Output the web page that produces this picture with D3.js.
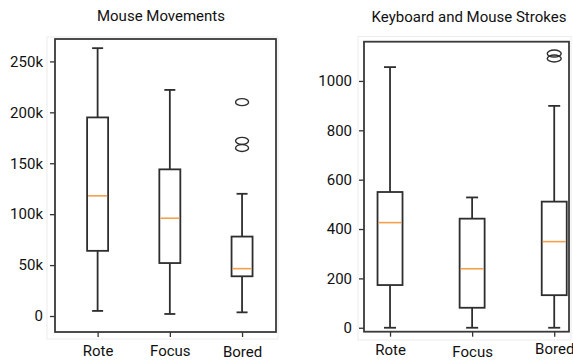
<!DOCTYPE html>
<html>
<head>
<meta charset="utf-8">
<script src="https://cdn.jsdelivr.net/npm/d3@7"></script>
<style>
  body { margin: 0; background: #fff; }
  text { font-family: Roboto, "Liberation Sans", sans-serif; fill: #111; }
</style>
</head>
<body>
<svg id="mainsvg" width="573" height="362"></svg>
<script>
// categories and box statistics
const categories = ['Rote', 'Focus', 'Bored'];

// Mouse Movements (counts)
const mouseLow    = [5000, 2000, 3600];
const mouseQ1     = [64000, 52000, 39000];
const mouseMedian = [118000, 96000, 46500];
const mouseQ3     = [195000, 144000, 78000];
const mouseHigh   = [263000, 222000, 120000];
const mouseOutliers = [[], [], [210000, 172000, 165000]];
const mouseTicks  = [0, 50000, 100000, 150000, 200000, 250000];

// Keyboard and Mouse Strokes
const keysLow    = [0, 0, 0];
const keysQ1     = [173, 81, 132];
const keysMedian = [426, 239, 349];
const keysQ3     = [550, 442, 511];
const keysHigh   = [1056, 528, 899];
const keysOutliers = [[], [], [1111, 1091]];
const keysTicks  = [0, 200, 400, 600, 800, 1000];

const svg = d3.select('#mainsvg');
const lineColor = '#2e2e2e';
const lw = 1.8;

function buildRows(low, q1, med, q3, high, outl) {
    return categories.map((c, i) => ({
        name: c, pos: i + 1,
        low: low[i], q1: q1[i], median: med[i], q3: q3[i], high: high[i],
        outliers: outl[i]
    }));
}

function drawPanel(cfg) {
    const g = svg.append('g');
    const xScale = d3.scaleLinear().domain(cfg.xDomain).range([cfg.left, cfg.right]);
    const yScale = d3.scaleLinear().domain(cfg.yDomain).range([cfg.bottom, cfg.top]);

    // faint outer frame
    g.append('rect')
        .attr('x', cfg.outer[0]).attr('y', cfg.outer[1])
        .attr('width', cfg.outer[2] - cfg.outer[0])
        .attr('height', cfg.outer[3] - cfg.outer[1])
        .attr('fill', 'none').attr('stroke', '#ececec').attr('stroke-width', 1);

    // axes
    const yAxis = d3.axisLeft(yScale).tickValues(cfg.ticks).tickFormat(cfg.fmt)
        .tickSizeOuter(0).tickSize(5).tickPadding(7);
    const yAxisG = g.append('g').attr('transform', `translate(${cfg.left}, 0)`).call(yAxis);
    const xAxis = d3.axisBottom(xScale).tickValues([1, 2, 3])
        .tickFormat(d => categories[d - 1]).tickSizeOuter(0).tickSize(5).tickPadding(8);
    const xAxisG = g.append('g').attr('transform', `translate(0, ${cfg.bottom})`).call(xAxis);
    [yAxisG, xAxisG].forEach(a => {
        a.select('.domain').remove();
        a.selectAll('.tick line').attr('stroke', '#333').attr('stroke-width', 1.3);
        a.selectAll('.tick text').attr('font-size', '15px').attr('fill', '#111');
    });
    xAxisG.selectAll('.tick text').attr('dy', (d, i) => cfg.labelDy[i]);

    const rows = cfg.rows;
    const bw = cfg.boxWidth;
    const cw = cfg.capWidth;
    const boxes = g.selectAll('.box').data(rows).enter().append('g').attr('class', 'box');

    boxes.append('line')
        .attr('x1', d => xScale(d.pos)).attr('x2', d => xScale(d.pos))
        .attr('y1', d => yScale(d.q3)).attr('y2', d => yScale(d.high))
        .attr('stroke', lineColor).attr('stroke-width', lw);
    boxes.append('line')
        .attr('x1', d => xScale(d.pos)).attr('x2', d => xScale(d.pos))
        .attr('y1', d => yScale(d.q1)).attr('y2', d => yScale(d.low))
        .attr('stroke', lineColor).attr('stroke-width', lw);
    ['high', 'low'].forEach(k => {
        boxes.append('line')
            .attr('x1', d => xScale(d.pos) - cw / 2).attr('x2', d => xScale(d.pos) + cw / 2)
            .attr('y1', d => yScale(d[k])).attr('y2', d => yScale(d[k]))
            .attr('stroke', lineColor).attr('stroke-width', lw);
    });
    boxes.append('rect')
        .attr('x', d => xScale(d.pos) - bw / 2)
        .attr('y', d => yScale(d.q3))
        .attr('width', bw)
        .attr('height', d => yScale(d.q1) - yScale(d.q3))
        .attr('fill', 'none').attr('stroke', lineColor).attr('stroke-width', lw);
    boxes.append('line')
        .attr('x1', d => xScale(d.pos) - bw / 2 + 1).attr('x2', d => xScale(d.pos) + bw / 2 - 1)
        .attr('y1', d => yScale(d.median)).attr('y2', d => yScale(d.median))
        .attr('stroke', '#f5a04a').attr('stroke-width', 1.6);
    boxes.selectAll('ellipse').data(d => d.outliers.map(v => ({pos: d.pos, v}))).enter()
        .append('ellipse')
        .attr('cx', d => xScale(d.pos)).attr('cy', d => yScale(d.v))
        .attr('rx', cfg.outR[0]).attr('ry', cfg.outR[1])
        .attr('fill', 'none').attr('stroke', lineColor).attr('stroke-width', 1.4);

    // plot frame
    g.append('rect')
        .attr('x', cfg.left).attr('y', cfg.top)
        .attr('width', cfg.right - cfg.left).attr('height', cfg.bottom - cfg.top)
        .attr('fill', 'none').attr('stroke', '#3a3a3a').attr('stroke-width', 1.8);

    g.append('text')
        .attr('x', cfg.titleX).attr('y', cfg.titleY)
        .attr('text-anchor', 'middle').attr('font-size', '15px')
        .text(cfg.title);
}

drawPanel({
    title: 'Mouse Movements', titleX: 161, titleY: 21,
    left: 55, right: 276, top: 39, bottom: 332,
    outer: [47, 37, 278, 339],
    xDomain: [0.41, 3.47], yDomain: [-15700, 272000],
    ticks: mouseTicks, fmt: d3.format('~s'),
    rows: buildRows(mouseLow, mouseQ1, mouseMedian, mouseQ3, mouseHigh, mouseOutliers),
    boxWidth: 21, capWidth: 11, outR: [6.5, 3.5],
    labelDy: ['0.71em', '0.71em', '0.8em']
});

drawPanel({
    title: 'Keyboard and Mouse Strokes', titleX: 469, titleY: 22,
    left: 364, right: 569, top: 41.7, bottom: 331.7,
    outer: [358, 36.5, 571, 340],
    xDomain: [0.683, 3.18], yDomain: [-16, 1159],
    ticks: keysTicks, fmt: d3.format('d'),
    rows: buildRows(keysLow, keysQ1, keysMedian, keysQ3, keysHigh, keysOutliers),
    boxWidth: 25, capWidth: 12, outR: [7, 3.5],
    labelDy: ['0.71em', '0.82em', '0.6em']
});
</script>
</body>
</html>
